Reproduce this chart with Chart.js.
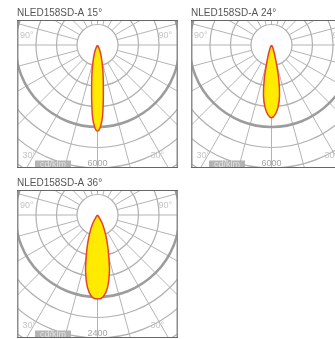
<!DOCTYPE html>
<html>
<head>
<meta charset="utf-8">
<script src="https://cdn.jsdelivr.net/npm/chart.js@4"></script>
<style>
  html, body { margin: 0; padding: 0; background: #fff; overflow: hidden; width: 335px; height: 339px; }
  canvas { position: absolute; }
</style>
</head>
<body>
<canvas id="c15" width="161" height="170" style="left:17px;top:0"></canvas>
<canvas id="c24" width="161" height="170" style="left:191px;top:0"></canvas>
<canvas id="c36" width="161" height="170" style="left:17px;top:170px"></canvas>
<script>
// panels
const titles = ['NLED158SD-A 15°', 'NLED158SD-A 24°', 'NLED158SD-A 36°'];
const scaleLabels = ['6000', '6000', '2400'];
const ringSteps = [1000, 1000, 400]; // cd/klm per ring

// light distribution, gamma angle (deg) -> cd/klm, symmetric
const angles15 = [0, 2, 4, 6, 8, 10, 12, 15, 20, 25, 30];
const cd15 = [4200, 4000, 3500, 2700, 2050, 1600, 1250, 850, 450, 200, 0];
const angles24 = [0, 3, 6, 9, 12, 15, 18, 22, 26, 30];
const cd24 = [3550, 3400, 3050, 2500, 1700, 900, 500, 250, 100, 0];
const angles36 = [0, 4, 8, 12, 16, 20, 25, 30, 35, 40];
const cd36 = [1640, 1600, 1420, 1120, 780, 540, 320, 170, 60, 0];

const RING_PX = 20.5;   // pixel radius of one ring
const BOX_W = 161, BOX_H = 148, ORIGIN_TOP = 25;

function curvePoints(angles, values) {
  const pts = [];
  // right half from outer angle down to 0, then left half back out
  for (let i = angles.length - 1; i >= 0; i--) {
    const t = angles[i] * Math.PI / 180;
    pts.push({ x: values[i] * Math.sin(t), y: -values[i] * Math.cos(t) });
  }
  for (let i = 1; i < angles.length; i++) {
    const t = angles[i] * Math.PI / 180;
    pts.push({ x: -values[i] * Math.sin(t), y: -values[i] * Math.cos(t) });
  }
  return pts;
}

const polarGrid = {
  id: 'polarGrid',
  beforeDatasetsDraw(chart, args, opts) {
    const { ctx, chartArea: a, scales: { x, y } } = chart;
    const cx = x.getPixelForValue(0), cy = y.getPixelForValue(0);
    const ring = x.getPixelForValue(opts.step) - cx;
    ctx.save();
    ctx.beginPath();
    ctx.rect(a.left, a.top, a.width, a.height);
    ctx.clip();
    ctx.strokeStyle = '#b4b4b4';
    ctx.lineWidth = 1;
    for (let d = 0; d < 360; d += 15) {
      const t = d * Math.PI / 180;
      ctx.beginPath();
      ctx.moveTo(cx + ring * Math.sin(t), cy + ring * Math.cos(t));
      ctx.lineTo(cx + 10 * ring * Math.sin(t), cy + 10 * ring * Math.cos(t));
      ctx.stroke();
    }
    for (let k = 1; k <= 9; k++) {
      ctx.beginPath();
      ctx.arc(cx, cy, k * ring, 0, 2 * Math.PI);
      ctx.lineWidth = k === 4 ? 2.5 : 1.2;
      ctx.strokeStyle = k === 4 ? '#9c9c9c' : '#b0b0b0';
      ctx.stroke();
    }
    ctx.restore();
  },
  afterDraw(chart, args, opts) {
    const { ctx, chartArea: a, scales: { x } } = chart;
    const cx = x.getPixelForValue(0);
    ctx.save();
    ctx.font = '9px "Liberation Sans", Arial, sans-serif';
    ctx.textBaseline = 'middle';
    ctx.fillStyle = '#c4c4c4';
    ctx.textAlign = 'left';
    ctx.fillText('90°', a.left + 3, a.top + 16);
    ctx.textAlign = 'right';
    ctx.fillText('90°', a.right - 6, a.top + 16);
    ctx.textBaseline = 'alphabetic';
    ctx.textAlign = 'left';
    ctx.fillText('30°', a.left + 5.5, a.top + 137.5);
    ctx.textAlign = 'right';
    ctx.fillText('30°', a.right - 14, a.top + 137.5);
    // unit tag
    ctx.fillStyle = '#b4b4b4';
    ctx.fillRect(a.left + 18, a.bottom - 7.5, 36, 7.5);
    ctx.fillStyle = '#e4e4e4';
    ctx.textAlign = 'center';
    ctx.fillText('cd/klm', a.left + 36, a.bottom - 1.5);
    ctx.fillStyle = '#a6a6a6';
    ctx.fillText(opts.label, cx, a.bottom - 2);
    // frame
    ctx.lineWidth = 1.5;
    ctx.strokeStyle = '#8c8c8c';
    ctx.beginPath();
    ctx.moveTo(a.left + 0.75, a.top); ctx.lineTo(a.left + 0.75, a.bottom);
    ctx.moveTo(a.right - 0.75, a.top); ctx.lineTo(a.right - 0.75, a.bottom);
    ctx.stroke();
    ctx.lineWidth = 1;
    ctx.strokeStyle = '#666';
    ctx.beginPath();
    ctx.moveTo(a.left, a.top + 0.5); ctx.lineTo(a.right, a.top + 0.5);
    ctx.moveTo(a.left, a.bottom - 0.5); ctx.lineTo(a.right, a.bottom - 0.5);
    ctx.stroke();
    ctx.restore();
  }
};

function drawPanel(id, idx, angles, values) {
  const step = ringSteps[idx];
  const unit = step / RING_PX; // value per pixel
  new Chart(document.getElementById(id), {
    type: 'scatter',
    data: {
      datasets: [{
        data: curvePoints(angles, values),
        showLine: true,
        fill: 'shape',
        backgroundColor: '#ffeb00',
        borderColor: '#ea3f2e',
        borderWidth: 1.5,
        tension: 0.3,
        pointRadius: 0
      }]
    },
    options: {
      responsive: false,
      animation: false,
      layout: { padding: { bottom: 2 } },
      scales: {
        x: { type: 'linear', display: false, min: -BOX_W / 2 * unit, max: BOX_W / 2 * unit },
        y: { type: 'linear', display: false, min: -(BOX_H - ORIGIN_TOP) * unit, max: ORIGIN_TOP * unit }
      },
      plugins: {
        legend: { display: false },
        tooltip: { enabled: false },
        title: {
          display: true,
          text: titles[idx],
          align: 'start',
          color: '#555',
          font: { family: '"Liberation Sans", Arial, sans-serif', size: 10, weight: 'normal' },
          padding: { top: 7, bottom: 1 }
        },
        polarGrid: { step: step, label: scaleLabels[idx] }
      }
    },
    plugins: [polarGrid]
  });
}

drawPanel('c15', 0, angles15, cd15);
drawPanel('c24', 1, angles24, cd24);
drawPanel('c36', 2, angles36, cd36);
</script>
</body>
</html>
